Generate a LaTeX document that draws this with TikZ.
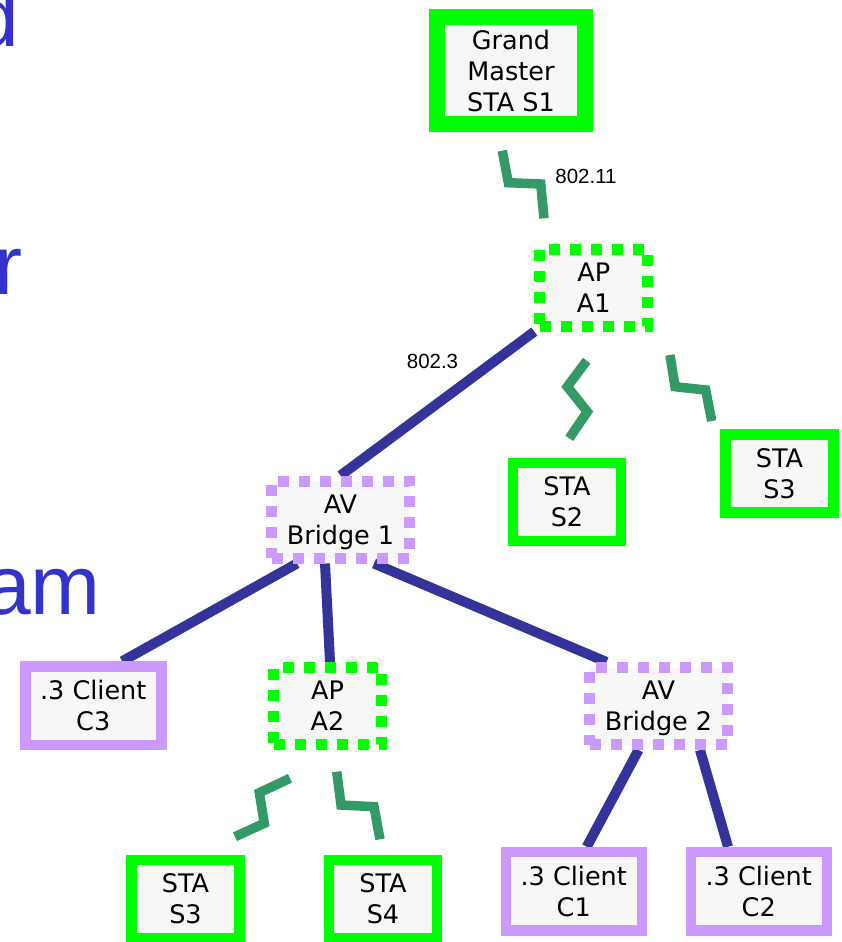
\documentclass[tikz,border=0pt]{standalone}
\usepackage{fontspec}
\usetikzlibrary{calc,backgrounds}
\newfontfamily\boxfont{DejaVu Sans}
\newfontfamily\labelfont{Liberation Sans}
\definecolor{stagreen}{HTML}{00FF00}
\definecolor{avpurple}{HTML}{CC99FF}
\definecolor{wirenavy}{HTML}{333399}
\definecolor{radiogreen}{HTML}{339966}
\definecolor{boxfill}{HTML}{F7F7F7}
\definecolor{titleblue}{HTML}{3333CC}

\begin{document}
\begin{tikzpicture}[x=1pt,y=-1pt,
  devbox/.style={rectangle, inner sep=0pt, fill=boxfill, align=center, text depth=0pt,
     font=\boxfont\fontsize{25.5}{31}\selectfont},
  stabox/.style={devbox, draw=stagreen, line width=10.5pt, minimum width=108pt, minimum height=78pt},
  gmbox/.style={devbox, draw=stagreen, line width=16pt, minimum width=148pt, minimum height=107pt},
  clientbox/.style={devbox, draw=avpurple, line width=10.5pt, minimum width=136pt, minimum height=78.5pt},
  apbox/.style={devbox, draw=stagreen, line width=11pt, dash pattern=on 11pt off 10pt,
     minimum width=108pt, minimum height=77pt},
  bridgebox/.style={devbox, draw=avpurple, line width=11pt, dash pattern=on 11pt off 10pt,
     minimum width=138pt, minimum height=77pt},
  ethlink/.style={draw=wirenavy, line width=10pt},
  radiolink/.style={draw=radiogreen, line width=9.5pt, line join=miter},
  linklabel/.style={font=\labelfont\fontsize{20.5}{24}\selectfont, inner sep=0pt, anchor=base},
  heading/.style={font=\labelfont\fontsize{84}{100}\selectfont, text=titleblue, inner sep=0pt, anchor=base west}
]
\useasboundingbox (0,0) rectangle (842,942);

% partly visible heading words at the left edge
\node[heading] (hd) at (-28,47) {d};
\node[heading] (hr) at (-6,294) {r};
\node[heading] (ham) at (-16,614) {am};

% devices
\node[gmbox] (gm) at (511,70.5) {Grand\\Master\\STA S1};
\node[apbox] (a1) at (593.8,287.6) {AP\\A1};
\node[stabox] (s2) at (567,502) {STA\\S2};
\node[stabox] (s3r) at (779.5,473.5) {STA\\S3};
\node[bridgebox] (br1) at (340.5,519.5) {AV\\Bridge 1};
\node[clientbox] (c3) at (93.25,705.75) {.3 Client\\C3};
\node[apbox] (a2) at (327.5,706) {AP\\A2};
\node[bridgebox] (br2) at (658.5,706) {AV\\Bridge 2};
\node[stabox] (s3b) at (185.5,899) {STA\\S3};
\node[stabox] (s4) at (383,899) {STA\\S4};
\node[clientbox] (c1) at (573.75,891.25) {.3 Client\\C1};
\node[clientbox] (c2) at (758.75,891.25) {.3 Client\\C2};

% link labels
\node[linklabel] (l11) at (586,183) {802.11};
\node[linklabel] (l3) at (432.5,368) {802.3};

% wired 802.3 links, behind the boxes
\begin{pgfonlayer}{background}
  \fill[white] (0,0) rectangle (842,942);
  \draw[ethlink] (a1.south west) -- (br1.north);
  \draw[ethlink] ($(br1.south)+(-43.5,0)$) -- ($(c3.north)+(29,0)$);
  \draw[ethlink] ($(br1.south)+(-15.5,0)$) -- ($(a2.north)+(2.5,0)$);
  \draw[ethlink] ($(br1.south)+(33.5,0)$) -- ($(br2.north west)+(22.5,0)$);
  \draw[ethlink] ($(br2.south)+(-20,0)$) -- ($(c1.north)+(13,0)$);
  \draw[ethlink] ($(br2.south)+(41.5,0)$) -- ($(c2.north)+(-30.75,0)$);
\end{pgfonlayer}

% wireless 802.11 links
\draw[radiolink] (502.3,150.7) -- (508.3,182.7) -- (540.7,184) -- (544,218.3);
\draw[radiolink] (586.7,360.7) -- (567.3,386.7) -- (587.3,411.7) -- (569.3,438.3);
\draw[radiolink] (670,355) -- (675,386.7) -- (705.7,390) -- (711.7,421);
\draw[radiolink] (290,778.3) -- (259.3,792.7) -- (264.3,823.3) -- (235,836.7);
\draw[radiolink] (336.7,771.7) -- (341,805) -- (374,806.7) -- (380,839.3);
\end{tikzpicture}
\end{document}
